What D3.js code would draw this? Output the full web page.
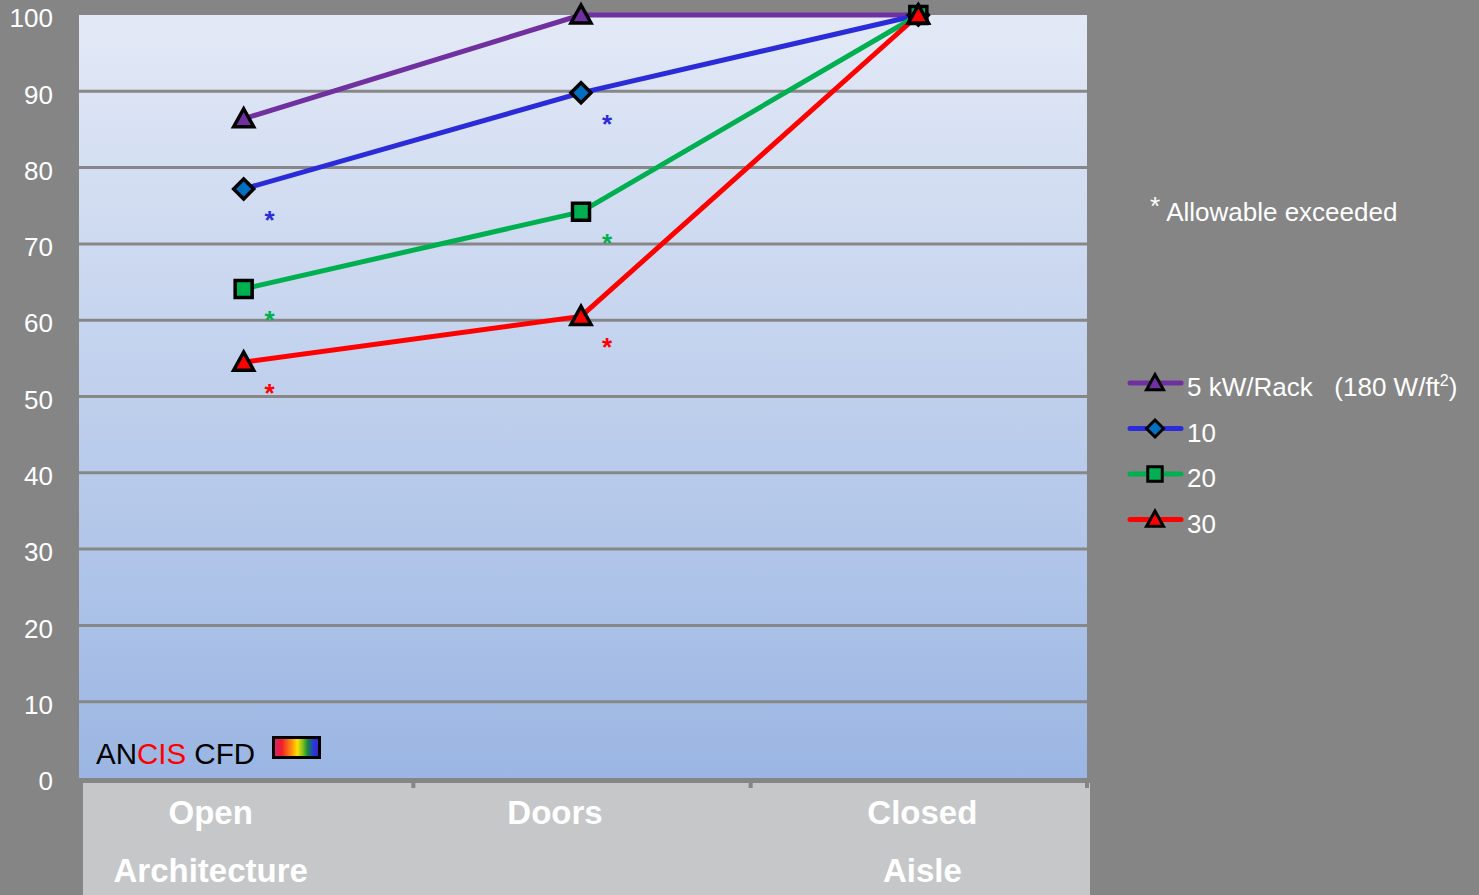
<!DOCTYPE html>
<html>
<head>
<meta charset="utf-8">
<script src="https://cdn.jsdelivr.net/npm/d3@7"></script>
<style>
  html, body { margin: 0; padding: 0; background: #858585; }
  svg { display: block; font-family: Arial, "Liberation Sans", sans-serif; }
</style>
</head>
<body>
<svg id="chart" width="1479" height="895"></svg>
<script>
// Categories along the x axis (two text lines each)
const categories = ["Open Architecture", "Doors", "Closed Aisle"];
const categoryLines = [["Open", "Architecture"], ["Doors"], ["Closed", "Aisle"]];
const yTicks = [0, 10, 20, 30, 40, 50, 60, 70, 80, 90, 100];

// Series values (percent)
const seriesNames = ["5 kW/Rack   (180 W/ft²)", "10", "20", "30"];
const rack5  = [86.4, 100, 100];
const rack10 = [77.2, 89.8, 100];
const rack20 = [64.1, 74.2, 100];
const rack30 = [54.5, 60.5, 100];
// Points where the allowable limit was exceeded
const exceeded5  = [false, false, false];
const exceeded10 = [true, true, false];
const exceeded20 = [true, true, false];
const exceeded30 = [true, true, false];

const seriesColors = ["#7030a0", "#2b2bd9", "#00b050", "#ff0000"];
const markerFills  = ["#7030a0", "#0070c0", "#00b050", "#ff0000"];
const markerShapes = ["triangle", "diamond", "square", "triangle"];

const series = seriesNames.map((name, i) => ({
  name,
  values: [rack5, rack10, rack20, rack30][i],
  exceeded: [exceeded5, exceeded10, exceeded20, exceeded30][i],
  color: seriesColors[i],
  fill: markerFills[i],
  shape: markerShapes[i]
}));

const svg = d3.select("#chart");
const plot = { left: 79, right: 1087, top: 15, bottom: 778 };

const x = d3.scaleBand().domain(categories).range([75, plot.right]).padding(0);
const y = d3.scaleLinear().domain([0, 100]).range([plot.bottom, plot.top]);

const defs = svg.append("defs");
const bg = defs.append("linearGradient").attr("id", "plotBg")
  .attr("x1", 0).attr("y1", 0).attr("x2", 0).attr("y2", 1);
bg.append("stop").attr("offset", "0%").attr("stop-color", "#e3e9f6");
bg.append("stop").attr("offset", "100%").attr("stop-color", "#9bb6e3");

const rainbow = defs.append("linearGradient").attr("id", "rainbow")
  .attr("x1", 0).attr("y1", 0).attr("x2", 1).attr("y2", 0);
[["0%", "#d4207f"], ["18%", "#f01e2a"], ["38%", "#ff8a10"], ["52%", "#ffe100"],
 ["64%", "#7cc020"], ["74%", "#1a8a3a"], ["86%", "#2040d0"], ["100%", "#4a18d8"]]
  .forEach(([o, c]) => rainbow.append("stop").attr("offset", o).attr("stop-color", c));

// Plot background
svg.append("rect")
  .attr("x", plot.left).attr("y", plot.top)
  .attr("width", plot.right - plot.left).attr("height", plot.bottom - plot.top)
  .attr("fill", "url(#plotBg)");

// Category box below the plot
svg.append("rect")
  .attr("x", plot.left + 4).attr("y", plot.bottom + 5)
  .attr("width", plot.right - plot.left - 1).attr("height", 895 - plot.bottom - 5)
  .attr("fill", "#c6c7c9");

// Horizontal gridlines
svg.append("g").selectAll("line")
  .data(yTicks.filter(t => t > 0 && t < 100))
  .join("line")
  .attr("x1", plot.left).attr("x2", plot.right)
  .attr("y1", d => y(d)).attr("y2", d => y(d))
  .attr("stroke", "#878787").attr("stroke-width", 3);

// Y axis labels
const yAxis = d3.axisLeft(y).tickValues(yTicks).tickSize(0).tickPadding(0);
const yg = svg.append("g").attr("transform", `translate(53,0)`).call(yAxis);
yg.select(".domain").remove();
yg.selectAll("text")
  .attr("fill", "#ffffff").attr("font-size", 26)
  .attr("font-family", "Arial, 'Liberation Sans', sans-serif")
  .attr("dy", "0.45em");

// Tick marks between categories, at the top of the category box
svg.append("g").selectAll("line")
  .data(categories.slice(1).concat(["__end"]))
  .join("line")
  .attr("x1", d => d === "__end" ? plot.right : x(d) + 1)
  .attr("x2", d => d === "__end" ? plot.right : x(d) + 1)
  .attr("y1", plot.bottom + 5).attr("y2", plot.bottom + 10)
  .attr("stroke", "#858585").attr("stroke-width", 4);

// Category labels
const labelOffsets = [-33, -26, 4];
categories.forEach((c, i) => {
  categoryLines[i].forEach((line, j) => {
    svg.append("text")
      .attr("x", x(c) + x.bandwidth() / 2 + labelOffsets[i])
      .attr("y", 824 + j * 58)
      .attr("text-anchor", "middle")
      .attr("fill", "#ffffff").attr("font-size", 33).attr("font-weight", "bold")
      .text(line);
  });
});

const cx = c => x(c) + x.bandwidth() / 2;

// Series lines
const lineGen = d3.line().x((d, i) => cx(categories[i])).y(d => y(d));
svg.append("g").selectAll("path")
  .data(series)
  .join("path")
  .attr("d", s => lineGen(s.values))
  .attr("fill", "none")
  .attr("stroke", s => s.color)
  .attr("stroke-width", 5)
  .attr("stroke-linejoin", "round");

// Marker shapes
function markerPath(shape) {
  if (shape === "triangle") return "M0,-10 L10,8 L-10,8 Z";
  if (shape === "diamond") return "M0,-10 L10,0 L0,10 L-10,0 Z";
  return "M-8.5,-8.5 L8.5,-8.5 L8.5,8.5 L-8.5,8.5 Z";
}

series.forEach(s => {
  svg.append("g").selectAll("path")
    .data(s.values)
    .join("path")
    .attr("transform", (d, i) => `translate(${cx(categories[i])},${y(d)})`)
    .attr("d", markerPath(s.shape))
    .attr("fill", s.fill)
    .attr("stroke", "#000").attr("stroke-width", 3.5)
    .attr("stroke-linejoin", "miter");
});

// Asterisks for exceeded points
series.forEach(s => {
  svg.append("g").selectAll("text")
    .data(s.values.map((v, i) => ({ v, i, flag: s.exceeded[i] })).filter(d => d.flag))
    .join("text")
    .attr("x", d => cx(categories[d.i]) + 26)
    .attr("y", d => y(d.v) + 40)
    .attr("text-anchor", "middle")
    .attr("fill", s.color)
    .attr("font-size", 26).attr("font-weight", "bold")
    .text("*");
});

// Note text
svg.append("text")
  .attr("x", 1150).attr("y", 221)
  .attr("fill", "#ffffff").attr("font-size", 26)
  .html('<tspan dy="-6">*</tspan><tspan dx="6" dy="6">Allowable exceeded</tspan>');

// Legend
const legend = svg.append("g");
series.forEach((s, i) => {
  const ly = 383 + i * 45.5;
  const g = legend.append("g").attr("transform", `translate(0,${ly})`);
  g.append("line").attr("x1", 1130).attr("x2", 1181).attr("y1", 0).attr("y2", 0)
    .attr("stroke", s.color).attr("stroke-width", 5).attr("stroke-linecap", "round");
  g.append("path").attr("transform", "translate(1155,0) scale(0.85)")
    .attr("d", markerPath(s.shape))
    .attr("fill", s.fill).attr("stroke", "#000").attr("stroke-width", 3.5);
  const t = g.append("text").attr("x", 1187).attr("y", 13)
    .attr("fill", "#ffffff").attr("font-size", 26).attr("xml:space", "preserve");
  if (i === 0) {
    t.append("tspan").text("5 kW/Rack   (180 W/ft");
    t.append("tspan").attr("font-size", 16).attr("dy", -10).text("2");
    t.append("tspan").attr("dy", 10).text(")");
  } else {
    t.text(s.name);
  }
});

// ANCIS CFD mark
const logo = svg.append("text").attr("x", 96).attr("y", 764)
  .attr("font-size", 29.5).attr("fill", "#000");
logo.append("tspan").text("AN");
logo.append("tspan").attr("fill", "#ff0000").text("CIS");
logo.append("tspan").text(" CFD");
svg.append("rect")
  .attr("x", 273.5).attr("y", 737.5).attr("width", 46).attr("height", 20)
  .attr("fill", "url(#rainbow)").attr("stroke", "#000").attr("stroke-width", 3);
</script>
</body>
</html>
